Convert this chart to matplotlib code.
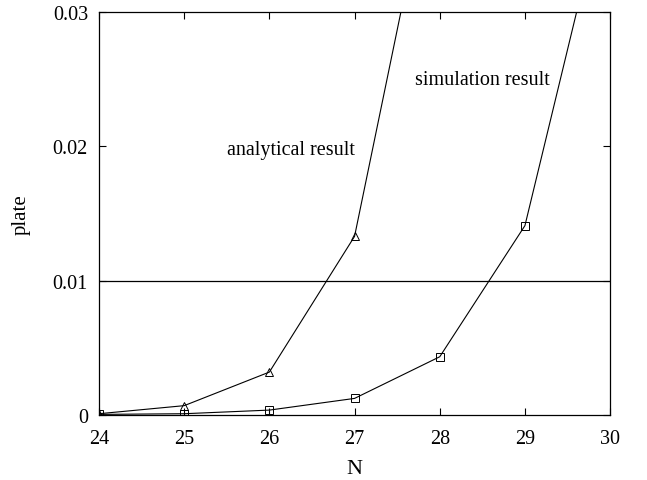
import matplotlib
matplotlib.use("Agg")
import matplotlib.pyplot as plt

plt.rcParams['font.family'] = ['Liberation Serif', 'DejaVu Serif']

# data
N = [24, 25, 26, 27, 28, 29, 30]
analytical = [0.0001, 0.0007, 0.0032, 0.0133, 0.044]
simulation = [0.00005, 0.0001, 0.00037, 0.00124, 0.00434, 0.0141, 0.0403]
threshold = 0.01

fig = plt.figure(figsize=(6.47, 4.81), dpi=100)
ax = fig.add_axes([0.153, 0.135, 0.790, 0.838])

ax.plot(N[:len(analytical)], analytical, color='black', lw=0.8,
        marker='^', ms=5.5, mfc='none', mec='black', mew=0.7, clip_on=True)
ax.plot(N[:len(simulation)], simulation, color='black', lw=0.8,
        marker='s', ms=5.5, mfc='none', mec='black', mew=0.7, clip_on=True)
ax.axhline(threshold, color='black', lw=0.9)

ax.set_xlim(24, 30)
ax.set_ylim(0, 0.03)
ax.set_xticks(N)
ax.set_yticks([0, 0.01, 0.02, 0.03])
ax.set_yticklabels(['0', '0.01', '0.02', '0.03'])
ax.tick_params(direction='in', top=True, right=True, length=5, width=0.8,
               labelsize=14.5)
ax.tick_params(axis='x', pad=10)
ax.tick_params(axis='y', pad=8)
for s in ax.spines.values():
    s.set_linewidth(0.9)

ax.set_xlabel('N', fontsize=16, labelpad=8)
ax.set_ylabel('plate', fontsize=15, labelpad=16)

ax.text(26.25, 0.0198, 'analytical result', fontsize=14.5, ha='center', va='center')
ax.text(28.5, 0.025, 'simulation result', fontsize=14.5, ha='center', va='center')

fig.savefig('out.png', dpi=100)
